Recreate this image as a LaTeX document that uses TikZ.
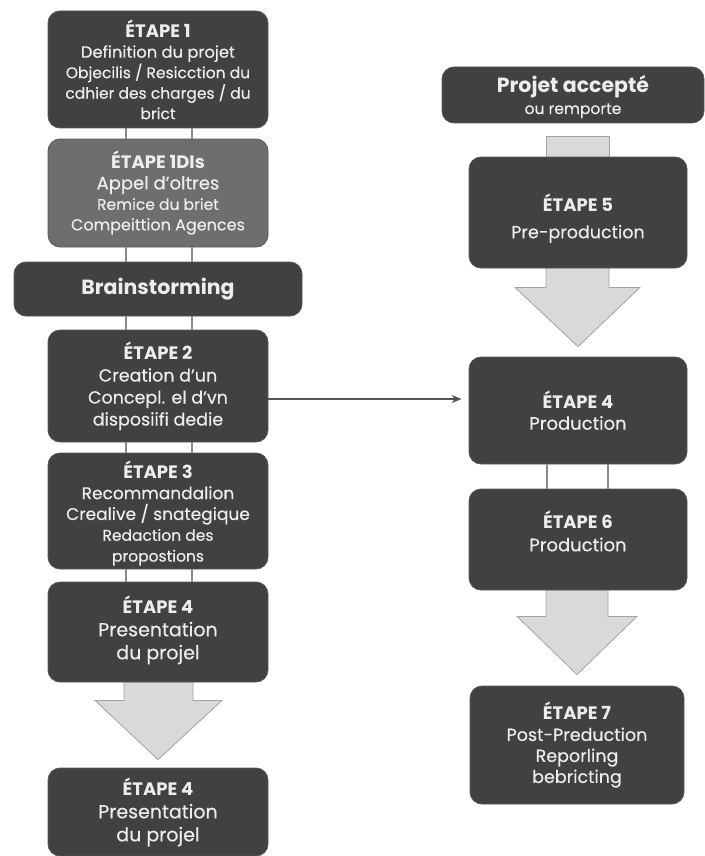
\documentclass[tikz,border=0pt]{standalone}
\usepackage{fontspec}
\setmainfont{Poppins}[UprightFeatures={FakeBold=0.35}]
\usetikzlibrary{backgrounds,arrows.meta}
\definecolor{boxdark}{HTML}{414141}
\definecolor{boxlight}{HTML}{6E6E6E}
\definecolor{boxedge}{HTML}{575757}
\definecolor{boxtext}{HTML}{EDEDED}
\definecolor{arrowfill}{HTML}{D9D9D9}
\definecolor{arrowedge}{HTML}{A3A3A3}
\definecolor{connline}{HTML}{8A8A8A}
\newcommand\ttl[1]{{\fontsize{18}{20}\selectfont\bfseries #1}}
\newcommand\sm[1]{{\fontsize{15.5}{20}\selectfont #1}}
\newcommand\downby[1]{\rule{0pt}{#1}}
\newcommand\upby[1]{\rule[-#1]{0pt}{1pt}}
\tikzset{
  box/.style={draw=boxedge, fill=boxdark, rounded corners=12pt, text=boxtext,
    align=center, inner sep=0pt, line width=0.8pt},
  lbox/.style={box, minimum width=220pt},
  rbox/.style={box, minimum width=218pt},
  conn/.style={draw=connline, line width=1.2pt},
  blockarrow/.style={fill=arrowfill, draw=arrowedge, line width=0.8pt},
  link/.style={draw=boxdark!90, line width=1.1pt, -{Stealth[length=10pt,width=8pt]}}
}
\begin{document}
\begin{tikzpicture}[x=1pt,y=-1pt]
\useasboundingbox (0,0) rectangle (704,856);

% left column
\node[lbox, minimum height=117pt, font=\fontsize{16.3}{20.5}\selectfont] (e1) at (158,69.5)
  {\ttl{ÉTAPE 1}\\ Definition du projet\\ \sm{Objecilis / Resicction du}\\ \sm{cdhier des charges / du}\\ \sm{brict}};
\node[lbox, fill=boxlight, minimum height=108pt, font=\fontsize{16}{20.5}\selectfont] (e1b) at (158,193)
  {\ttl{ÉTAPE 1DIs}\\ {\fontsize{18}{20.5}\selectfont Appel d'oltres}\\ \sm{Remice du briet}\\ Compeittion Agences};
\node[box, minimum width=288pt, minimum height=54pt, font=\fontsize{20.5}{22}\selectfont\bfseries] (brain) at (158,289)
  {Brainstorming};
\node[lbox, minimum height=112pt, font=\fontsize{17.5}{22}\selectfont] (e2) at (158,386)
  {\ttl{ÉTAPE 2}\\ Creation d'un\\ Concepl. el d'vn\\ disposiifi dedie};
\node[lbox, minimum height=116pt, font=\fontsize{17}{20.8}\selectfont] (e3) at (158,511)
  {\ttl{\downby{22pt}ÉTAPE 3}\\ Recommandalion\\ Crealive / snategique\\ \sm{Redaction des}\\ \sm{propostions}};
\node[lbox, minimum height=100pt, font=\fontsize{19}{23}\selectfont] (e4) at (158,632)
  {\ttl{ÉTAPE 4}\\ Presentation\\ du projel\upby{9pt}};
\node[lbox, minimum height=88pt, font=\fontsize{19}{23}\selectfont] (e4b) at (158,812)
  {\ttl{ÉTAPE 4}\\ Presentation\\ du projel};

% right column
\node[box, minimum width=262pt, minimum height=56pt] (pa) at (573,95)
  {{\fontsize{20.5}{22}\selectfont\bfseries\downby{21pt}Projet accepté}\\[4pt] {\fontsize{15.5}{16}\selectfont ou remporte}};
\node[rbox, minimum height=111pt, font=\fontsize{17.5}{27}\selectfont] (e5) at (578,212.5)
  {\ttl{\downby{29pt}ÉTAPE 5}\\ Pre-production};
\node[rbox, minimum height=107pt, font=\fontsize{18}{21}\selectfont] (p4) at (578,410.5)
  {\ttl{ÉTAPE 4}\\ Production};
\node[rbox, minimum height=101pt, font=\fontsize{18}{23}\selectfont] (e6) at (578,539.5)
  {\ttl{ÉTAPE 6}\\ Production\upby{17pt}};
\node[box, minimum width=214pt, minimum height=118pt, font=\fontsize{17.5}{21}\selectfont] (e7) at (577,745)
  {\ttl{ÉTAPE 7}\\ Post-Preduction\\ Reporling\\ bebricting};

% thin double connectors
\foreach \a/\b in {e1/e1b, e1b/brain, brain/e2, e2/e3, e3/e4}{
  \draw[conn] ([xshift=-32pt]\a.south) -- ([xshift=-32pt]\b.north);
  \draw[conn] ([xshift=34pt]\a.south) -- ([xshift=34pt]\b.north);
}
\draw[conn] ([xshift=-31pt]p4.south) -- ([xshift=-31pt]e6.north);
\draw[conn] ([xshift=30pt]p4.south) -- ([xshift=30pt]e6.north);

% link arrow
\draw[link, shorten >=7pt] ([yshift=-13pt]e2.east) -- ([yshift=-13pt]e2.east -| p4.west);

% block arrows
\begin{scope}[on background layer]
  \coordinate (a1top) at ([yshift=-13pt]pa.south);
  \coordinate (a1l) at ([xshift=-32pt]e5.north);
  \filldraw[blockarrow] (a1l |- a1top) rectangle ([xshift=31pt,yshift=-10pt]e5.north);
  \filldraw[blockarrow] ([xshift=-32pt,yshift=8pt]e5.south) -- ([xshift=-32pt,yshift=-19pt]e5.south)
    -- ([xshift=-63pt,yshift=-19pt]e5.south) -- ([yshift=10pt]p4.north)
    -- ([xshift=62pt,yshift=-19pt]e5.south) -- ([xshift=31pt,yshift=-19pt]e5.south)
    -- ([xshift=31pt,yshift=8pt]e5.south) -- cycle;
  \filldraw[blockarrow] ([xshift=-32pt,yshift=8pt]e6.south) -- ([xshift=-32pt,yshift=-26pt]e6.south)
    -- ([xshift=-61pt,yshift=-26pt]e6.south) -- ([yshift=11pt]e7.north)
    -- ([xshift=59pt,yshift=-26pt]e6.south) -- ([xshift=30pt,yshift=-26pt]e6.south)
    -- ([xshift=30pt,yshift=8pt]e6.south) -- cycle;
  \filldraw[blockarrow] ([xshift=-34pt,yshift=8pt]e4.south) -- ([xshift=-34pt,yshift=-18pt]e4.south)
    -- ([xshift=-63pt,yshift=-18pt]e4.south) -- ([yshift=8pt]e4b.north)
    -- ([xshift=64pt,yshift=-18pt]e4.south) -- ([xshift=35pt,yshift=-18pt]e4.south)
    -- ([xshift=35pt,yshift=8pt]e4.south) -- cycle;
\end{scope}
\end{tikzpicture}
\end{document}
